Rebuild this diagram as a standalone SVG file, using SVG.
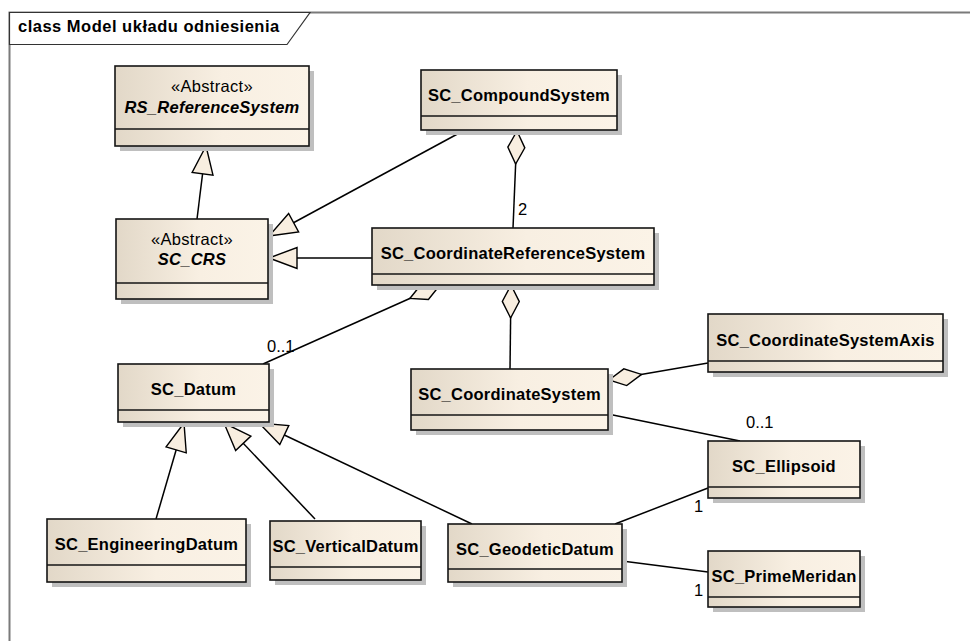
<svg xmlns="http://www.w3.org/2000/svg" width="970" height="641" viewBox="0 0 970 641">
<style>
.box{fill:url(#g);stroke:#141414;stroke-width:1.6}
.sh{fill:#bfbfbf}
.dv{stroke:#141414;stroke-width:1.6}
.nm{font-family:"Liberation Sans",Arial,sans-serif;font-size:16.5px;font-weight:bold;letter-spacing:0.25px;text-anchor:middle;fill:#000}
.it{font-style:italic}
.st{font-family:"Liberation Sans",Arial,sans-serif;font-size:16.5px;letter-spacing:0.3px;text-anchor:middle;fill:#000}
.lb{font-family:"Liberation Sans",Arial,sans-serif;font-size:16.5px;fill:#000}
.ln{fill:none;stroke:#000;stroke-width:1.5}
.gen{marker-end:url(#tri)}
.agg{marker-start:url(#dia)}
</style>
<defs>
<linearGradient id="g" x1="0" y1="0" x2="1" y2="0">
<stop offset="0" stop-color="#e2d8c8"/>
<stop offset="0.55" stop-color="#f8efe2"/>
<stop offset="1" stop-color="#fbf3e7"/>
</linearGradient>
<marker id="tri" markerUnits="userSpaceOnUse" viewBox="-30 -15 32 30" markerWidth="32" markerHeight="30" refX="0" refY="0" orient="auto" overflow="visible">
<path d="M0,0 L-28,-10.5 L-28,10.5 Z" fill="#f8eee0" stroke="#000" stroke-width="1.4"/>
</marker>
<marker id="dia" markerUnits="userSpaceOnUse" viewBox="-2 -10 38 20" markerWidth="38" markerHeight="20" refX="0" refY="0" orient="auto" overflow="visible">
<path d="M0,0 L16.5,-8.5 L33,0 L16.5,8.5 Z" fill="#f8eee0" stroke="#000" stroke-width="1.4"/>
</marker>
</defs>
<rect width="970" height="641" fill="#fff"/>
<g id="frame">
<rect x="9.5" y="12.5" width="1000" height="700" fill="none" stroke="#7a7a7a" stroke-width="2"/>
<path d="M9.5,12.5 L310,12.5 L287,44.5 L9.5,44.5 Z" fill="#fff" stroke="#333" stroke-width="1.2"/>
<text x="18" y="32" font-family="Liberation Sans,Arial,sans-serif" font-size="16.5" font-weight="bold" letter-spacing="0.5">class Model układu odniesienia</text>
</g>
<g id="connectors">
<path class="ln gen" d="M197,219 L206,146"/>
<path class="ln gen" d="M463,131 L269,236"/>
<path class="ln gen" d="M372,258 L269,258"/>
<path class="ln gen" d="M156,519 L184,423"/>
<path class="ln gen" d="M315,519 L224,423"/>
<path class="ln gen" d="M472,524 L259,423"/>
<path class="ln agg" d="M517,131 L513,228"/>
<path class="ln agg" d="M511,285 L510,369"/>
<path class="ln agg" d="M440,285 L263,364"/>
<path class="ln agg" d="M609,380 L708,363"/>
<path class="ln" d="M608,414 L740,441"/>
<path class="ln" d="M615,524 L708,488"/>
<path class="ln" d="M622,561 L708,572"/>
<text class="lb" x="518" y="215">2</text>
<text class="lb" x="267" y="352">0..1</text>
<text class="lb" x="746" y="428">0..1</text>
<text class="lb" x="694" y="512">1</text>
<text class="lb" x="694" y="596">1</text>
</g>
<g id="RS_ReferenceSystem">
<rect class="sh" x="120" y="71" width="194" height="80"/>
<rect class="box" x="115" y="66" width="194" height="80"/>
<line class="dv" x1="115" y1="129" x2="309" y2="129"/>
<text class="st" x="212" y="92">«Abstract»</text>
<text class="nm it" x="212" y="113">RS_ReferenceSystem</text>
</g>
<g id="SC_CRS">
<rect class="sh" x="121" y="224" width="152" height="80"/>
<rect class="box" x="116" y="219" width="152" height="80"/>
<line class="dv" x1="116" y1="283" x2="268" y2="283"/>
<text class="st" x="192" y="245">«Abstract»</text>
<text class="nm it" x="192" y="265">SC_CRS</text>
</g>
<g id="SC_CompoundSystem">
<rect class="sh" x="426" y="75" width="196" height="60"/>
<rect class="box" x="421" y="70" width="196" height="60"/>
<line class="dv" x1="421" y1="116" x2="617" y2="116"/>
<text class="nm" x="519" y="101">SC_CompoundSystem</text>
</g>
<g id="SC_CoordinateReferenceSystem">
<rect class="sh" x="377" y="233" width="282" height="57"/>
<rect class="box" x="372" y="228" width="282" height="57"/>
<line class="dv" x1="372" y1="274" x2="654" y2="274"/>
<text class="nm" x="513" y="259">SC_CoordinateReferenceSystem</text>
</g>
<g id="SC_CoordinateSystem">
<rect class="sh" x="416" y="374" width="197" height="61"/>
<rect class="box" x="411" y="369" width="197" height="61"/>
<line class="dv" x1="411" y1="415" x2="608" y2="415"/>
<text class="nm" x="509.5" y="400">SC_CoordinateSystem</text>
</g>
<g id="SC_CoordinateSystemAxis">
<rect class="sh" x="713" y="319" width="235" height="58"/>
<rect class="box" x="708" y="314" width="235" height="58"/>
<line class="dv" x1="708" y1="361" x2="943" y2="361"/>
<text class="nm" x="825.5" y="345.5">SC_CoordinateSystemAxis</text>
</g>
<g id="SC_Ellipsoid">
<rect class="sh" x="713" y="446" width="152" height="57"/>
<rect class="box" x="708" y="441" width="152" height="57"/>
<line class="dv" x1="708" y1="487" x2="860" y2="487"/>
<text class="nm" x="784" y="472">SC_Ellipsoid</text>
</g>
<g id="SC_PrimeMeridan">
<rect class="sh" x="713" y="556" width="152" height="56"/>
<rect class="box" x="708" y="551" width="152" height="56"/>
<line class="dv" x1="708" y1="597" x2="860" y2="597"/>
<text class="nm" x="784" y="582">SC_PrimeMeridan</text>
</g>
<g id="SC_GeodeticDatum">
<rect class="sh" x="453" y="529" width="174" height="58"/>
<rect class="box" x="448" y="524" width="174" height="58"/>
<line class="dv" x1="448" y1="569" x2="622" y2="569"/>
<text class="nm" x="535" y="554.5">SC_GeodeticDatum</text>
</g>
<g id="SC_Datum">
<rect class="sh" x="123" y="369" width="151" height="58"/>
<rect class="box" x="118" y="364" width="151" height="58"/>
<line class="dv" x1="118" y1="410" x2="269" y2="410"/>
<text class="nm" x="193.5" y="395">SC_Datum</text>
</g>
<g id="SC_EngineeringDatum">
<rect class="sh" x="52" y="524" width="199" height="63"/>
<rect class="box" x="47" y="519" width="199" height="63"/>
<line class="dv" x1="47" y1="565" x2="246" y2="565"/>
<text class="nm" x="146.5" y="550">SC_EngineeringDatum</text>
</g>
<g id="SC_VerticalDatum">
<rect class="sh" x="275" y="526" width="151" height="59"/>
<rect class="box" x="270" y="521" width="151" height="59"/>
<line class="dv" x1="270" y1="567" x2="421" y2="567"/>
<text class="nm" x="345.5" y="552">SC_VerticalDatum</text>
</g>
</svg>
